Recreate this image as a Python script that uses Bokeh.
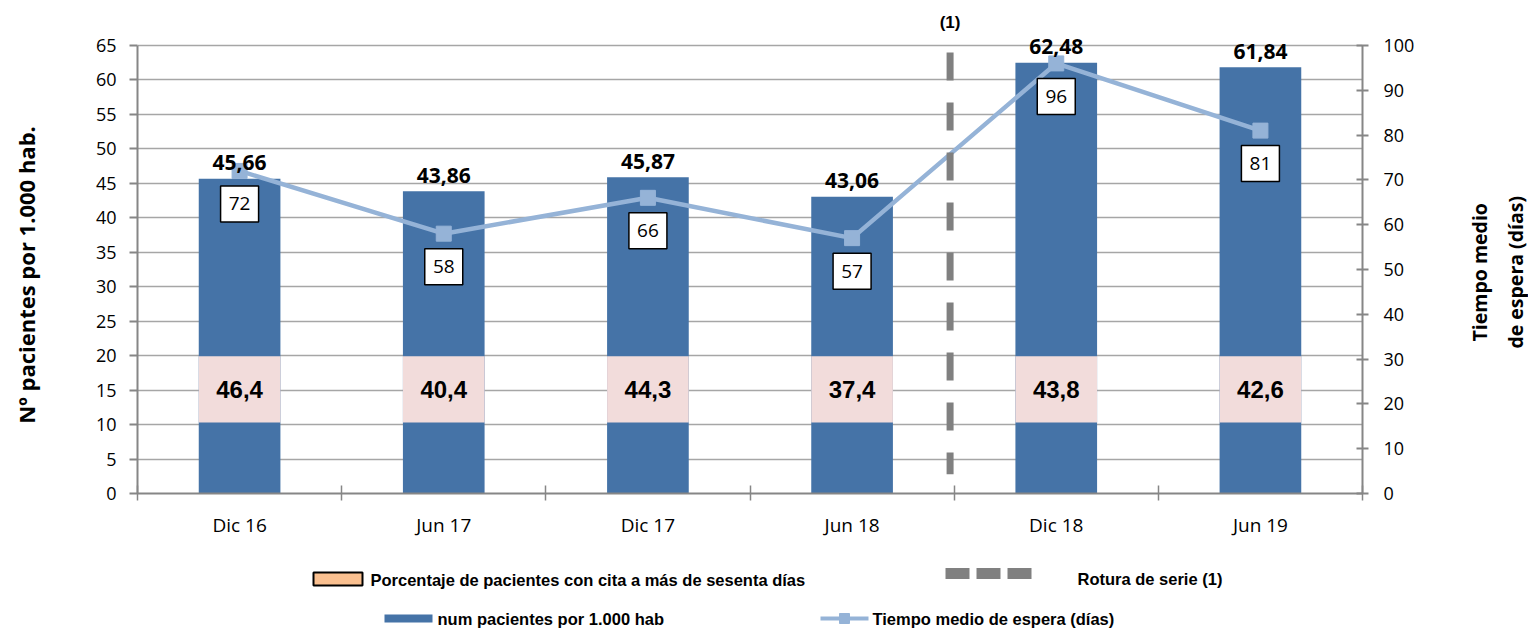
import math
from bokeh.plotting import figure
from bokeh.models import Range1d, LinearAxis, FixedTicker, ColumnDataSource
from bokeh.layouts import column, row
from bokeh.embed import file_html
from bokeh.resources import INLINE
from bokeh.core.properties import value

# ---------------- data ----------------
categories = ["Dic 16", "Jun 17", "Dic 17", "Jun 18", "Dic 18", "Jun 19"]
pacientes = [45.66, 43.86, 45.87, 43.06, 62.48, 61.84]      # num pacientes por 1.000 hab (left axis)
porcentaje = [46.4, 40.4, 44.3, 37.4, 43.8, 42.6]           # % pacientes con cita > 60 días
tiempo = [72, 58, 66, 57, 96, 81]                           # tiempo medio de espera (right axis)
left_ticks = list(range(0, 66, 5))
right_ticks = list(range(0, 101, 10))
break_after = 3  # serie break between "Jun 18" and "Dic 18"


def es(v, d):
    return f"{v:.{d}f}".replace(".", ",")


# ---------------- geometry / style (page pixels) ----------------
PAGE_W, PAGE_H = 1528, 630
LT_W, RT_W = 45, 72                 # side strips holding the axis titles
TOP_H = 548                         # chart row height; legend strip below
FRAME_L, FRAME_R, FRAME_T, FRAME_B = 137, 1362, 10, 493
AXIS_TOP_PX = 45                    # pixel row of value 65 / 100

LEFT_MAX = 65
RIGHT_MAX = 100
PX_LEFT = (FRAME_B - AXIS_TOP_PX) / LEFT_MAX
y_top = (FRAME_B - FRAME_T) / PX_LEFT
right_top = RIGHT_MAX * y_top / LEFT_MAX
PX_RIGHT = (FRAME_B - FRAME_T) / right_top

BAR_COLOR = "#4573A7"
PINK = "#F2DCDB"
LINE_COLOR = "#95B3D7"
AXIS_COLOR = "#868686"
GRID_COLOR = "#A6A6A6"
DASH_COLOR = "#808080"
PINK_Y, PINK_H = 15.1, 9.6
BOX_DROP_PX = 33

FONT_S = "Open Sans"
FONT = value(FONT_S)
FONT_ARIAL = value("Liberation Sans")

idx = list(range(len(categories)))
src = ColumnDataSource(dict(
    x=idx,
    pac=pacientes,
    pac_lbl=[es(v, 2) for v in pacientes],
    pct_lbl=[es(v, 1) for v in porcentaje],
    t=tiempo,
    t_lbl=[str(v) for v in tiempo],
    t_box=[v - BOX_DROP_PX / PX_RIGHT for v in tiempo],
))


def blank(width, height, x0, x1, y0, y1):
    f = figure(width=width, height=height, x_range=Range1d(x0, x1), y_range=Range1d(y1, y0),
               output_backend="svg", toolbar_location=None, x_axis_type=None, y_axis_type=None,
               min_border_left=0, min_border_right=0, min_border_top=0, min_border_bottom=0)
    f.grid.visible = False
    f.outline_line_color = None
    return f


# ---------------- main chart ----------------
MAIN_W = PAGE_W - LT_W - RT_W
p = figure(width=MAIN_W, height=TOP_H, x_range=Range1d(-0.5, len(categories) - 0.5),
           y_range=Range1d(0, y_top), output_backend="svg", toolbar_location=None,
           min_border_left=FRAME_L - LT_W, min_border_right=(PAGE_W - RT_W) - FRAME_R,
           min_border_top=FRAME_T, min_border_bottom=TOP_H - FRAME_B)
p.extra_y_ranges = {"right": Range1d(0, right_top)}
p.outline_line_color = None
p.background_fill_color = "white"
p.border_fill_color = "white"

# left axis
ya = p.yaxis[0]
ya.ticker = FixedTicker(ticks=left_ticks)
ya.bounds = (0, LEFT_MAX)
ya.axis_line_color = AXIS_COLOR
ya.axis_line_width = 2
ya.major_tick_line_color = AXIS_COLOR
ya.major_tick_line_width = 2
ya.major_tick_in = 0
ya.major_tick_out = 8
ya.minor_tick_line_color = None
ya.major_label_standoff = 13
ya.major_label_text_font = FONT_S
ya.major_label_text_font_size = "18px"
ya.major_label_text_color = "#000000"

# x axis
xa = p.xaxis[0]
xa.ticker = FixedTicker(ticks=idx, minor_ticks=[i - 0.5 for i in range(len(categories) + 1)])
xa.major_label_overrides = {i: c for i, c in zip(idx, categories)}
xa.axis_line_color = AXIS_COLOR
xa.axis_line_width = 2
xa.major_tick_line_color = None
xa.major_tick_in = 0
xa.major_tick_out = 0
xa.minor_tick_line_color = AXIS_COLOR
xa.minor_tick_line_width = 1.5
xa.minor_tick_in = 8
xa.minor_tick_out = 7
xa.major_label_standoff = 11
xa.major_label_text_font = FONT_S
xa.major_label_text_font_size = "19px"
xa.major_label_text_color = "#000000"

p.xgrid.visible = False
p.ygrid.grid_line_color = GRID_COLOR
p.ygrid.grid_line_width = 1.5

# right axis
ra = LinearAxis(y_range_name="right", ticker=FixedTicker(ticks=right_ticks), bounds=(0, RIGHT_MAX))
ra.axis_line_color = AXIS_COLOR
ra.axis_line_width = 2
ra.major_tick_line_color = AXIS_COLOR
ra.major_tick_line_width = 2
ra.major_tick_in = 6
ra.major_tick_out = 6
ra.minor_tick_line_color = None
ra.major_label_standoff = 15
ra.major_label_text_font = FONT_S
ra.major_label_text_font_size = "18px"
ra.major_label_text_color = "#000000"
p.add_layout(ra, "right")

# bars
p.vbar(x="x", top="pac", width=0.4, source=src, fill_color=BAR_COLOR, line_color=None)
# pink label boxes for percentages
p.rect(x="x", y=PINK_Y, width=0.4, height=PINK_H, source=src, fill_color=PINK, line_color=None)
p.text(x="x", y=PINK_Y, text="pct_lbl", source=src, text_font=FONT_ARIAL, text_font_style="bold",
       text_font_size="24px", text_align="center", text_baseline="middle", text_color="#000000")

# line on right axis
p.line(x="x", y="t", source=src, y_range_name="right", line_color=LINE_COLOR, line_width=4.5)
p.scatter(x="x", y="t", source=src, y_range_name="right", marker="square", size=15,
          fill_color=LINE_COLOR, line_color=LINE_COLOR)
p.rect(x="x", y="t_box", width=38, height=36, width_units="screen", height_units="screen",
       source=src, y_range_name="right", fill_color="white", line_color="#000000", line_width=1.5)
p.text(x="x", y="t_box", text="t_lbl", source=src, y_range_name="right", text_font=FONT,
       text_font_size="19px", text_align="center", text_baseline="middle", text_color="#000000")

# bar value labels
p.text(x="x", y="pac", text="pac_lbl", source=src, y_offset=-16, text_font=FONT, text_font_style="bold",
       text_font_size="21px", text_align="center", text_baseline="alphabetic", text_color="#000000")

# series break
bx = break_after + 0.48
p.segment(x0=[bx], y0=[64.0], x1=[bx], y1=[2.8], line_color=DASH_COLOR, line_width=7,
          line_dash="28 22", line_cap="butt")
p.text(x=[bx], y=[LEFT_MAX], text=["(1)"], y_offset=-23, text_font=FONT_ARIAL, text_font_style="bold",
       text_font_size="17px", text_align="center", text_baseline="middle", text_color="#000000")

# ---------------- axis titles (side strips) ----------------
lt = blank(LT_W, TOP_H, 0, LT_W, 0, TOP_H)
lt.text(x=[25], y=[300], text=["Nº pacientes por 1.000 hab."], angle=math.pi / 2,
        text_font=FONT, text_font_style="bold", text_font_size="22px",
        text_align="center", text_baseline="middle", text_color="#000000")

rt = blank(RT_W, TOP_H, PAGE_W - RT_W, PAGE_W, 0, TOP_H)
rt.text(x=[1497], y=[297], text=["Tiempo medio\nde espera (días)"], angle=math.pi / 2,
        text_font=FONT, text_font_style="bold", text_font_size="19.5px", text_line_height=1.35,
        text_align="center", text_baseline="middle", text_color="#000000")

# ---------------- legend strip ----------------
leg = blank(PAGE_W, PAGE_H - TOP_H, 0, PAGE_W, TOP_H, PAGE_H)

LFONT_SIZE = "16.5px"
r1, r2 = 578, 618
leg.quad(left=[313], right=[362], top=[r1 - 6], bottom=[r1 + 7], fill_color="#FAC090",
         line_color="#000000", line_width=2)
leg.text(x=[370], y=[r1 + 1], text=["Porcentaje de pacientes con cita a más de  sesenta días"],
         text_font=FONT_ARIAL, text_font_style="bold", text_font_size=LFONT_SIZE,
         text_baseline="middle", text_color="#000000")
leg.segment(x0=[945], y0=[r1 - 5], x1=[1032], y1=[r1 - 5], line_color=DASH_COLOR, line_width=11,
            line_dash="24 7", line_cap="butt")
leg.text(x=[1077], y=[r1], text=["Rotura de serie (1)"],
         text_font=FONT_ARIAL, text_font_style="bold", text_font_size=LFONT_SIZE,
         text_baseline="middle", text_color="#000000")

leg.quad(left=[384], right=[432], top=[r2 - 4], bottom=[r2 + 4], fill_color=BAR_COLOR, line_color=None)
leg.text(x=[437], y=[r2], text=["num pacientes por 1.000 hab"],
         text_font=FONT_ARIAL, text_font_style="bold", text_font_size=LFONT_SIZE,
         text_baseline="middle", text_color="#000000")
leg.line(x=[820, 868], y=[r2, r2], line_color=LINE_COLOR, line_width=4)
leg.scatter(x=[844], y=[r2], marker="square", size=10, fill_color=LINE_COLOR, line_color=LINE_COLOR)
leg.text(x=[872], y=[r2], text=["Tiempo medio de espera (días)"],
         text_font=FONT_ARIAL, text_font_style="bold", text_font_size=LFONT_SIZE,
         text_baseline="middle", text_color="#000000")

layout = column(row(lt, p, rt, spacing=0), leg, spacing=0)
open("out.html", "w").write(file_html(layout, INLINE))
